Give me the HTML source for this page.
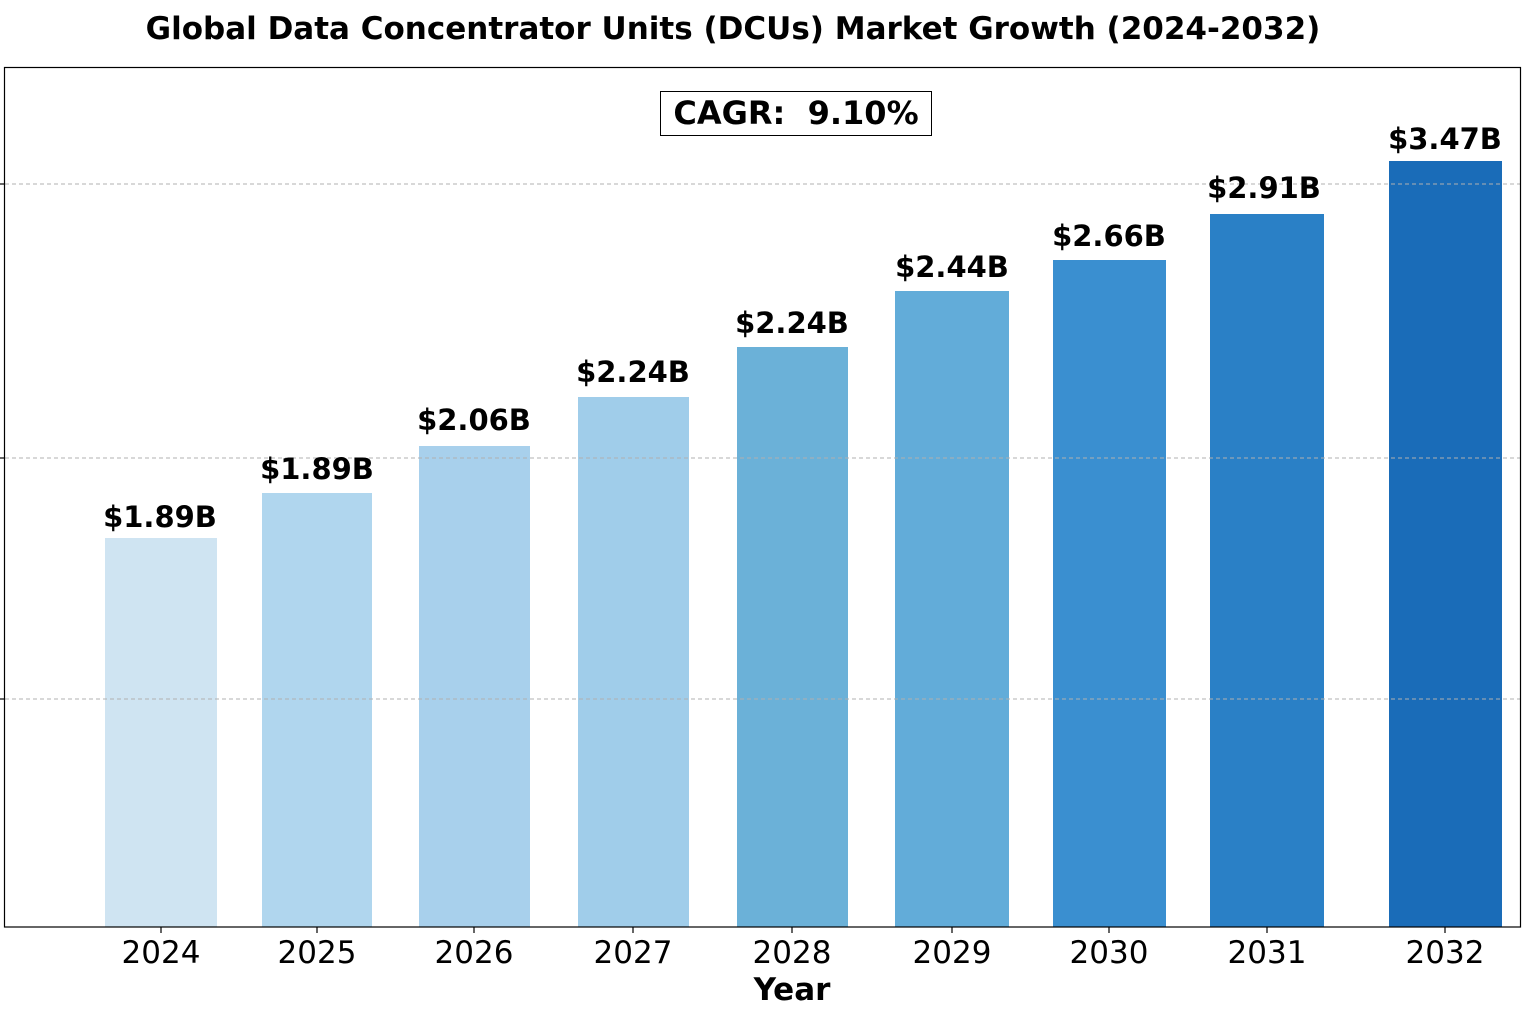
<!DOCTYPE html>
<html><head><meta charset="utf-8"><style>
html,body{margin:0;padding:0;background:#fff;}
svg{display:block;}
text{font-family:"DejaVu Sans","Liberation Sans",sans-serif;}
</style></head><body>
<svg width="1536" height="1024" viewBox="0 0 1536 1024" xmlns="http://www.w3.org/2000/svg">
<rect width="1536" height="1024" fill="#fff"/>
<text x="733" y="39" text-anchor="middle" font-size="31" font-weight="bold" fill="#000">Global Data Concentrator Units (DCUs) Market Growth (2024-2032)</text>
<g>
<rect x="105" y="538" width="112" height="389" fill="#cfe4f2"/>
<rect x="262" y="493" width="110" height="434" fill="#b0d6ee"/>
<rect x="419" y="446" width="111" height="481" fill="#a8d0ec"/>
<rect x="578" y="397" width="111" height="530" fill="#a0cdea"/>
<rect x="737" y="347" width="111" height="580" fill="#6bb1d8"/>
<rect x="895" y="291" width="114" height="636" fill="#62acd9"/>
<rect x="1053" y="260" width="113" height="667" fill="#3a8fd0"/>
<rect x="1210" y="214" width="114" height="713" fill="#2a80c6"/>
<rect x="1389" y="161" width="113" height="766" fill="#1a6cb8"/>
</g>
<g stroke="#b0b0b0" stroke-width="1" stroke-dasharray="4,3">
<line x1="5" y1="184" x2="1521" y2="184"/>
<line x1="5" y1="458" x2="1521" y2="458"/>
<line x1="5" y1="699" x2="1521" y2="699"/>
</g>
<rect x="4.5" y="67.5" width="1516" height="859.5" fill="none" stroke="#000" stroke-width="1.2"/>
<g stroke="#000" stroke-width="1.2">
<line x1="0" y1="184" x2="4" y2="184"/>
<line x1="0" y1="458" x2="4" y2="458"/>
<line x1="0" y1="699" x2="4" y2="699"/>
</g>
<rect x="660.5" y="91.5" width="271" height="44" fill="#fff" stroke="#000" stroke-width="1"/>
<text x="796" y="124" text-anchor="middle" font-size="32" font-weight="bold">CAGR:&#160; 9.10%</text>
<g font-size="29" font-weight="bold" text-anchor="middle" fill="#000">
<text x="160" y="527">$1.89B</text>
<text x="317" y="479">$1.89B</text>
<text x="474" y="430">$2.06B</text>
<text x="633" y="382">$2.24B</text>
<text x="792" y="333">$2.24B</text>
<text x="952" y="277">$2.44B</text>
<text x="1109" y="246">$2.66B</text>
<text x="1264" y="198">$2.91B</text>
<text x="1445" y="149">$3.47B</text>
</g>
<g stroke="#000" stroke-width="1.2">
<line x1="161" y1="927" x2="161" y2="933"/><line x1="317" y1="927" x2="317" y2="933"/><line x1="474" y1="927" x2="474" y2="933"/><line x1="633" y1="927" x2="633" y2="933"/><line x1="792" y1="927" x2="792" y2="933"/><line x1="952" y1="927" x2="952" y2="933"/><line x1="1109" y1="927" x2="1109" y2="933"/><line x1="1267" y1="927" x2="1267" y2="933"/><line x1="1445" y1="927" x2="1445" y2="933"/>
</g>
<g font-size="31" text-anchor="middle" fill="#000">
<text x="161" y="963">2024</text><text x="317" y="963">2025</text><text x="474" y="963">2026</text><text x="633" y="963">2027</text><text x="792" y="963">2028</text><text x="952" y="963">2029</text><text x="1109" y="963">2030</text><text x="1267" y="963">2031</text><text x="1445" y="963">2032</text>
</g>
<text x="792" y="1000" text-anchor="middle" font-size="31" font-weight="bold">Year</text>
</svg>
</body></html>
